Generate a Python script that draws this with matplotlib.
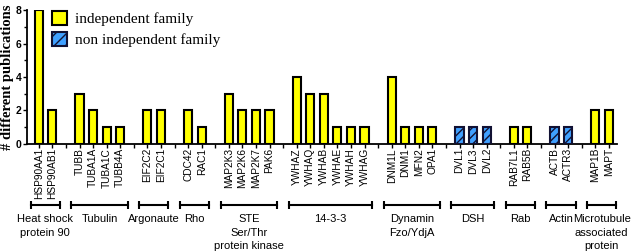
import matplotlib
matplotlib.use("Agg")
import matplotlib.pyplot as plt
from matplotlib.patches import Patch
from matplotlib.ticker import MultipleLocator

groups = ["Heat shock\nprotein 90", "Tubulin", "Argonaute", "Rho", "STE\nSer/Thr\nprotein kinase",
          "14-3-3", "Dynamin\nFzo/YdjA", "DSH", "Rab", "Actin", "Microtubule\nassociated\nprotein"]
genes = [["HSP90AA1", "HSP90AB1"],
         ["TUBB", "TUBA1A", "TUBA1C", "TUBB4A"],
         ["EIF2C2", "EIF2C1"],
         ["CDC42", "RAC1"],
         ["MAP2K3", "MAP2K6", "MAP2K7", "PAK6"],
         ["YWHAZ", "YWHAQ", "YWHAB", "YWHAE", "YWHAH", "YWHAG"],
         ["DNM1L", "DNM1", "MFN2", "OPA1"],
         ["DVL1", "DVL3", "DVL2"],
         ["RAB7L1", "RAB5B"],
         ["ACTB", "ACTR3"],
         ["MAP1B", "MAPT"]]
values = [[8, 2],
          [3, 2, 1, 1],
          [2, 2],
          [2, 1],
          [3, 2, 2, 2],
          [4, 3, 3, 1, 1, 1],
          [4, 1, 1, 1],
          [1, 1, 1],
          [1, 1],
          [1, 1],
          [2, 2]]
independent = [True, True, True, True, True, True, True, False, True, False, True]

fig = plt.figure(figsize=(6.4, 2.52), dpi=100)
ax = fig.add_axes([0.042, 0.429, 0.922, 0.531])

pos = 0
tick_pos, tick_lab = [], []
all_slots = []
brackets = []
for g, (names, vals, ind) in enumerate(zip(genes, values, independent)):
    xs = list(range(pos, pos + len(names)))
    if ind:
        ax.bar(xs, vals, width=0.6, color="#ffff00", edgecolor="black", linewidth=1.5, zorder=3)
    else:
        ax.bar(xs, vals, width=0.6, color="#3fa0ff", edgecolor="#111133", linewidth=1.5,
               hatch="////", zorder=3)
    tick_pos += xs
    tick_lab += names
    all_slots += xs
    brackets.append((xs[0], xs[-1]))
    pos += len(names)
    if g < len(genes) - 1:
        all_slots.append(pos)
        pos += 1

ax.set_xlim(-0.88, pos - 0.4)
ax.set_ylim(0, 8)
ax.set_xticks(all_slots)
ax.set_xticklabels(["" for _ in all_slots])
for x, lab in zip(tick_pos, tick_lab):
    ax.text(x, -0.25, lab, rotation=90, ha="center", va="top", fontsize=7.3,
            family="Liberation Sans", transform=ax.transData)
ax.tick_params(axis="x", length=3, width=1, direction="out")
ax.set_yticks([0, 2, 4, 6, 8])
ax.yaxis.set_minor_locator(MultipleLocator(1))
ax.tick_params(axis="y", which="major", length=3, width=1, labelsize=7.5, pad=1)
ax.tick_params(axis="y", which="minor", length=2, width=1)
for lbl in ax.get_yticklabels():
    lbl.set_fontweight("bold")
    lbl.set_family("Liberation Sans")
for s in ["top", "right"]:
    ax.spines[s].set_visible(False)
for s in ["left", "bottom"]:
    ax.spines[s].set_linewidth(1.3)

ax.set_ylabel("# different publications", fontsize=10.5, fontweight="bold",
              family="Liberation Serif", labelpad=1)

yb = -0.455
for (a, b), name in zip(brackets, groups):
    x0, x1 = a - 0.6, b + 0.55
    ax.plot([x0, x1], [yb, yb], transform=ax.get_xaxis_transform(), color="black",
            lw=1.5, clip_on=False, marker="|", markersize=6, markeredgewidth=1.5)
    ax.text((x0 + x1) / 2, yb - 0.07, name, transform=ax.get_xaxis_transform(),
            ha="center", va="top", fontsize=8, family="Liberation Sans", linespacing=1.45)

handles = [Patch(facecolor="#ffff00", edgecolor="black", linewidth=1.5),
           Patch(facecolor="#3fa0ff", edgecolor="#111133", linewidth=1.5, hatch="///")]
fig.legend(handles, ["independent family", "non independent family"],
           loc="upper left", bbox_to_anchor=(0.06, 1.01), frameon=False,
           prop={"family": "Liberation Serif", "size": 11},
           handlelength=1.0, handleheight=1.0, handletextpad=0.5, labelspacing=0.4)

fig.savefig("out.png", dpi=100)
